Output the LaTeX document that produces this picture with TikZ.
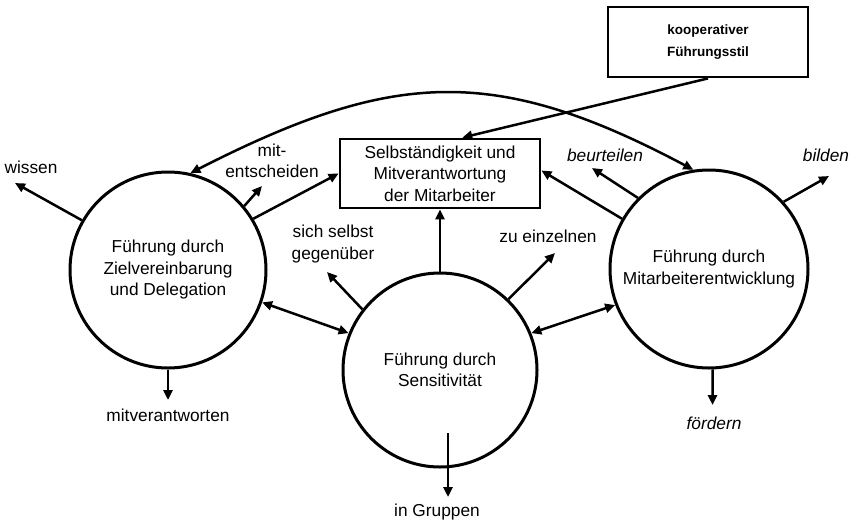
\documentclass[tikz,border=0pt]{standalone}
\usepackage{fontspec}
\setmainfont{Liberation Sans}
\usetikzlibrary{arrows.meta,calc}
\begin{document}
\begin{tikzpicture}[x=1pt,y=-1pt,
  lbl/.style={font=\fontsize{17.3}{21.5}\selectfont, align=center, inner sep=0pt},
  ilbl/.style={lbl, font=\fontsize{17.3}{21.5}\selectfont\itshape},
  circ/.style={circle, draw, line width=3pt, align=center, font=\fontsize{17.3}{21.5}\selectfont, inner sep=0pt},
  box/.style={draw, line width=2.8pt, minimum width=200pt, minimum height=69pt, align=center, inner sep=0pt, font=\fontsize{17.3}{21.5}\selectfont},
  arr/.style={line width=2.5pt, -{Triangle[length=10pt,width=9pt]}},
  darr/.style={line width=2.5pt, {Triangle[length=10pt,width=9pt]}-{Triangle[length=10pt,width=9pt]}}
]
\useasboundingbox (0,0) rectangle (851,523);
% main nodes
\node[circ, minimum size=196pt] (L) at (168,270) {Führung durch\\Zielvereinbarung\\und Delegation};
\node[circ, minimum size=194pt] (M) at (440,370) {Führung durch\\Sensitivität};
\node[circ, minimum size=198pt] (R) at (709,269) {Führung durch\\Mitarbeiterentwicklung};
\node[box] (B) at (440,173.5) {Selbständigkeit und\\Mitverantwortung\\der Mitarbeiter};
\node[box, minimum height=70pt, font=\bfseries\fontsize{13.5}{22}\selectfont] (K) at (708,42) {kooperativer\\Führungsstil};
% labels
\node[lbl] (wissen) at (31,167) {wissen};
\node[lbl] (mitent) at (272,161) {mit-\\entscheiden};
\node[lbl] (selbst) at (333,244) {sich selbst\\gegenüber};
\node[lbl] (einz) at (548,236) {zu einzelnen};
\node[ilbl] (beurt) at (605,155) {beurteilen};
\node[ilbl] (bilden) at (826,155) {bilden};
\node[lbl] (mitver) at (168,415) {mitverantworten};
\node[ilbl] (foerd) at (714,423) {fördern};
\node[lbl] (grup) at (437,512) {in Gruppen};
% free arrow ends
\coordinate (wT) at (15,183);
\coordinate (meT) at (262,186);
\coordinate (mvT) at (168,400);
\coordinate (sT) at (327,272);
\coordinate (zT) at (555,253);
\coordinate (bT) at (592,168);
\coordinate (biT) at (829,176);
\coordinate (fT) at (712.5,405);
\coordinate (gS) at (448,433);
\coordinate (gT) at (448,497);
% connectors
\draw[arr] (L.150) -- (wT);
\draw[arr] (L.40) -- (meT);
\draw[arr] (L.31) -- (B.west);
\draw[arr] (L.270) -- (mvT);
\draw[darr] (L.-19) -- (M.158);
\draw[arr] (M.142) -- (sT);
\draw[arr] (M.north) -- (B.south);
\draw[arr] (M.46) -- (zT);
\draw[darr] (M.22) -- (R.201);
\draw[arr] (R.150) -- ([yshift=3pt]B.east);
\draw[arr] (R.135) -- (bT);
\draw[arr] (R.42) -- (biT);
\draw[arr] (R.-88) -- (fT);
\draw[arr] (gS) -- (gT);
\draw[arr] (K.south) -- ($(B.north west)!0.61!(B.north east)$);
\draw[darr] (L.77) .. controls +(27:226pt) and +(152:226pt) .. (R.99);
\end{tikzpicture}
\end{document}
